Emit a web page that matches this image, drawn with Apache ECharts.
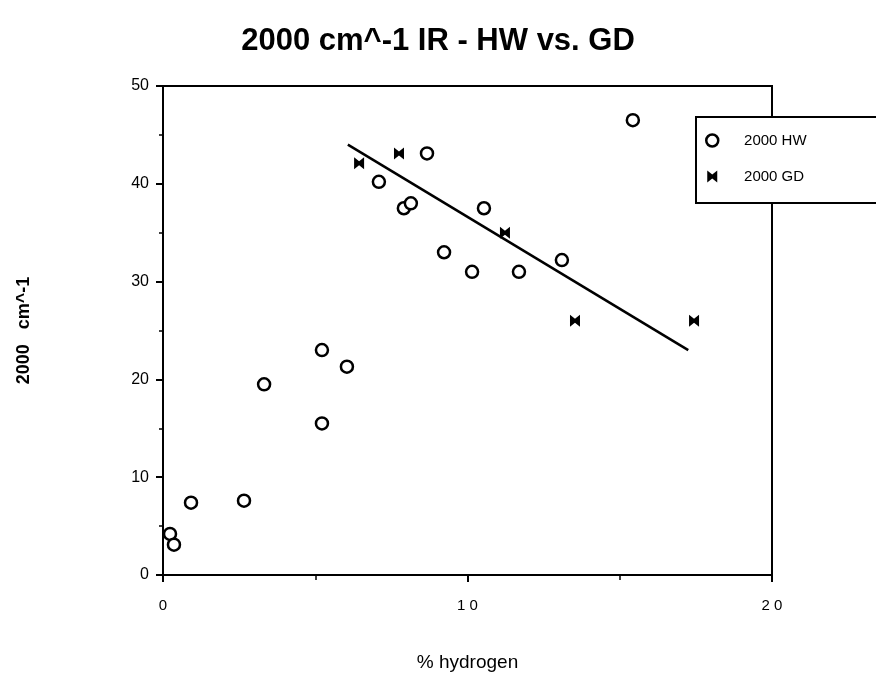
<!DOCTYPE html>
<html>
<head>
<meta charset="utf-8">
<script src="https://cdn.jsdelivr.net/npm/echarts@6/dist/echarts.min.js"></script>
<style>
html,body{margin:0;padding:0;background:#fff;}
#chart{width:876px;height:680px;}
</style>
</head>
<body>
<div id="chart"></div>
<script>
// Data
var titleText = '2000 cm^-1 IR - HW vs. GD';
var xAxisName = '% hydrogen';
var yAxisName = '2000   cm^-1';
var hwName = '2000 HW';
var gdName = '2000 GD';
var hwX = [0.23, 0.36, 0.92, 2.66, 3.32, 5.22, 5.22, 6.04, 7.09, 7.91, 8.14, 8.67, 9.23, 10.15, 10.54, 11.69, 13.1, 15.43];
var hwY = [4.2, 3.1, 7.4, 7.6, 19.5, 23.0, 15.5, 21.3, 40.2, 37.5, 38.0, 43.1, 33.0, 31.0, 37.5, 31.0, 32.2, 46.5];
var gdX = [6.44, 7.75, 11.23, 13.53, 17.44];
var gdY = [42.1, 43.1, 35.0, 26.0, 26.0];
var fitX = [6.07, 17.25];
var fitY = [44.0, 23.0];
var xTicks = [0, 10, 20];
var yTicks = [0, 10, 20, 30, 40, 50];

function zip(a, b) { return a.map(function (v, i) { return [v, b[i]]; }); }

var bowtie = 'path://M0,0 L5,4 L10,0 L10,12 L5,8 L0,12 Z';
var font = '"Liberation Sans", Arial, Helvetica, sans-serif';

var chart = echarts.init(document.getElementById('chart'));
chart.setOption({
  backgroundColor: '#fff',
  animation: false,
  title: {
    text: titleText,
    left: 'center',
    top: 21,
    textStyle: { fontFamily: font, fontWeight: 'bold', fontSize: 31, color: '#000' }
  },
  legend: {
    orient: 'vertical',
    left: 696,
    top: 117,
    backgroundColor: '#fff',
    borderColor: '#000',
    borderWidth: 2,
    borderRadius: 0,
    padding: [16, 80, 19, 9],
    itemGap: 21,
    itemWidth: 12,
    itemHeight: 12,
    textStyle: { fontFamily: font, fontSize: 15, color: '#000' },
    formatter: function (n) { return '     ' + n; },
    data: [
      { name: hwName, icon: 'circle', itemStyle: { color: '#fff', borderColor: '#000', borderWidth: 2.5 } },
      { name: gdName, icon: bowtie, itemStyle: { color: '#000' } }
    ]
  },
  grid: {
    left: 163, right: 104, top: 86, bottom: 105,
    show: true, borderColor: '#000', borderWidth: 2, backgroundColor: 'transparent'
  },
  xAxis: {
    type: 'value',
    min: 0, max: 20, interval: 10,
    name: xAxisName,
    nameLocation: 'middle',
    nameGap: 78,
    nameTextStyle: { fontFamily: font, fontSize: 19, color: '#000' },
    axisLine: { show: true, onZero: false, lineStyle: { color: '#000', width: 2 } },
    axisTick: { show: true, length: 7, lineStyle: { color: '#000', width: 2 } },
    minorTick: { show: true, splitNumber: 2, length: 5, lineStyle: { color: '#000', width: 1.5 } },
    splitLine: { show: false },
    axisLabel: {
      margin: 23, fontFamily: font, fontSize: 15, color: '#000',
      formatter: function (v) { return String(v).split('').join(' '); }
    }
  },
  yAxis: {
    type: 'value',
    min: 0, max: 50, interval: 10,
    name: yAxisName,
    nameLocation: 'middle',
    nameGap: 130,
    nameRotate: 90,
    nameTextStyle: { fontFamily: font, fontSize: 18, fontWeight: 'bold', color: '#000' },
    axisLine: { show: true, onZero: false, lineStyle: { color: '#000', width: 2 } },
    axisTick: { show: true, length: 7, lineStyle: { color: '#000', width: 2 } },
    minorTick: { show: true, splitNumber: 2, length: 4, lineStyle: { color: '#000', width: 1.5 } },
    splitLine: { show: false },
    axisLabel: { margin: 14, fontFamily: font, fontSize: 16, color: '#000' }
  },
  series: [
    {
      name: hwName,
      type: 'scatter',
      symbol: 'circle',
      symbolSize: 12,
      itemStyle: { color: '#fff', borderColor: '#000', borderWidth: 2.5, opacity: 1 },
      data: zip(hwX, hwY),
      z: 3
    },
    {
      name: gdName,
      type: 'scatter',
      symbol: bowtie,
      symbolSize: [10, 12],
      itemStyle: { color: '#000', opacity: 1 },
      data: zip(gdX, gdY),
      z: 3
    },
    {
      name: 'fit',
      type: 'line',
      showSymbol: false,
      symbol: 'none',
      lineStyle: { color: '#000', width: 2.5 },
      data: zip(fitX, fitY),
      z: 2
    }
  ]
});
</script>
</body>
</html>
